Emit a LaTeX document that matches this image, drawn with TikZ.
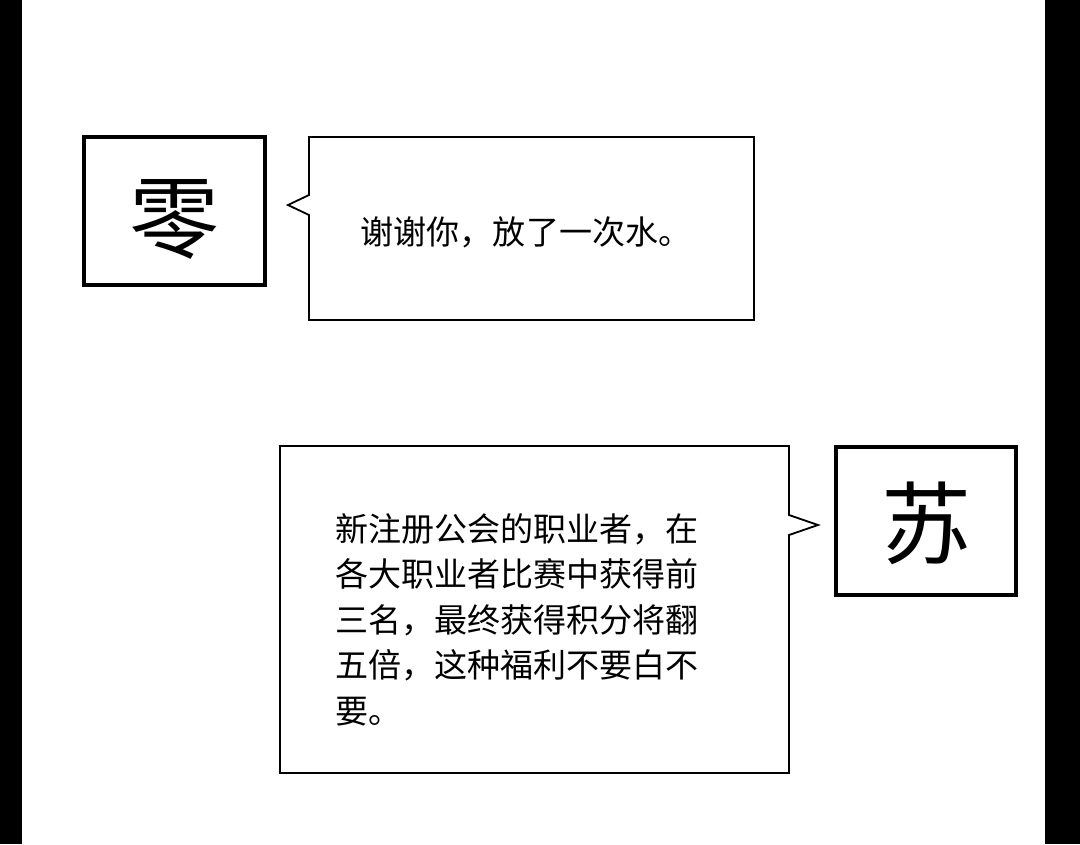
\documentclass[tikz,border=0pt]{standalone}
\usepackage{fontspec}
\newfontfamily\cjk{Noto Sans CJK SC}
\begin{document}
\begin{tikzpicture}[x=0.025cm,y=-0.025cm,
namebox/.style={draw=black,line width=2.2pt},
bubble/.style={draw=black,line width=1.3pt,line join=miter},
bigchar/.style={font=\cjk\fontsize{64}{64}\selectfont,inner sep=0pt},
speech/.style={font=\cjk\fontsize{23.5}{32.4}\selectfont,inner sep=0pt,align=left}
]
\useasboundingbox (0,0) rectangle (1080,844);
% side margins
\fill[black] (0,0) rectangle (22,844);
\fill[black] (1045,0) rectangle (1080,844);
% first speaker
\draw[namebox] (84,137) rectangle (265,285);
\node[bigchar] (ling) at (174.5,219) {零};
\draw[bubble] (309,137) -- (754,137) -- (754,320) -- (309,320) -- (309,215) -- (288,205) -- (309,195) -- cycle;
\node[speech] (line1) at (526,232) {谢谢你，放了一次水。};
% second speaker
\draw[namebox] (836,447) rectangle (1016,595);
\node[bigchar] (su) at (926,523) {苏};
\draw[bubble] (280,446) -- (789,446) -- (789,515) -- (818,525) -- (789,535) -- (789,773) -- (280,773) -- cycle;
\node[speech,anchor=north west,text width=400] (line2) at (335,513)
{新注册公会的职业者，在\\各大职业者比赛中获得前\\三名，最终获得积分将翻\\五倍，这种福利不要白不\\要。};
\end{tikzpicture}
\end{document}
